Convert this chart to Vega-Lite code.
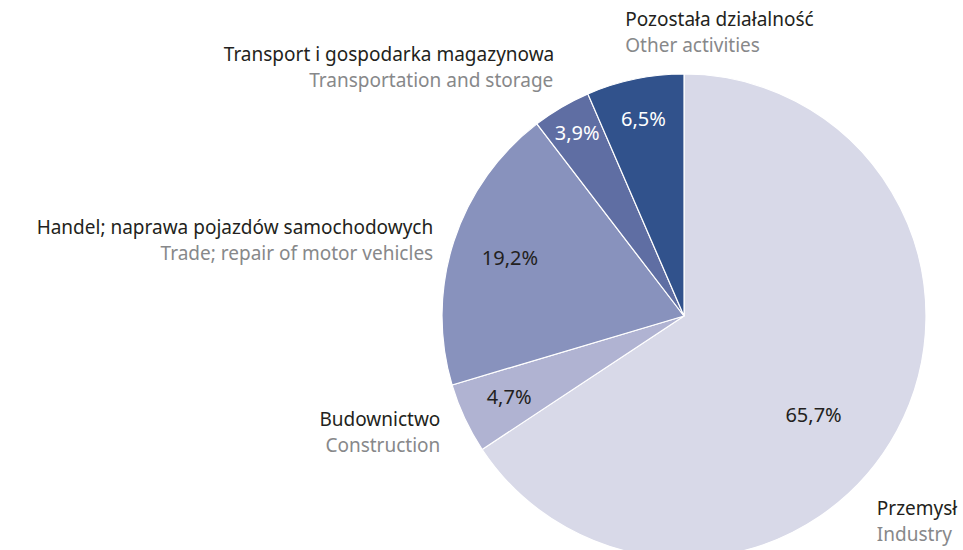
{
  "$schema": "https://vega.github.io/schema/vega-lite/v6.json",
  "width": 558,
  "height": 468,
  "autosize": "none",
  "padding": {"left": 405, "top": 82, "right": 0, "bottom": 0},
  "background": "#ffffff",
  "config": {"view": {"stroke": null}, "text": {"font": "Noto Sans"}},
  "data": {
    "values": [
      {"category": "Przemysł", "english": "Industry", "share": 65.7, "label": "65,7%", "ord": 1},
      {"category": "Budownictwo", "english": "Construction", "share": 4.7, "label": "4,7%", "ord": 2},
      {"category": "Handel; naprawa pojazdów samochodowych", "english": "Trade; repair of motor vehicles", "share": 19.2, "label": "19,2%", "ord": 3},
      {"category": "Transport i gospodarka magazynowa", "english": "Transportation and storage", "share": 3.9, "label": "3,9%", "ord": 4},
      {"category": "Pozostała działalność", "english": "Other activities", "share": 6.5, "label": "6,5%", "ord": 5}
    ]
  },
  "encoding": {
    "theta": {"field": "share", "type": "quantitative", "stack": true},
    "order": {"field": "ord", "type": "quantitative"}
  },
  "layer": [
    {
      "mark": {"type": "arc", "outerRadius": 242, "stroke": "#ffffff", "strokeWidth": 1.2},
      "encoding": {
        "color": {
          "field": "ord",
          "type": "nominal",
          "scale": {"domain": [1, 2, 3, 4, 5], "range": ["#d8d9e8", "#b0b3d2", "#8892bd", "#5f6ea3", "#31528c"]},
          "legend": null
        }
      }
    },
    {
      "mark": {
        "type": "text",
        "fontSize": 20,
        "align": "center",
        "baseline": "middle",
        "radius": {"expr": "[0, 163, 193, 183, 211, 200][datum.ord]"},
        "dx": {"expr": "datum.ord === 1 ? -14 : 0"},
        "dy": {"expr": "datum.ord === 1 ? 23 : 0"}
      },
      "encoding": {
        "text": {"field": "label"},
        "color": {
          "field": "ord",
          "type": "nominal",
          "scale": {"domain": [1, 2, 3, 4, 5], "range": ["#231f20", "#231f20", "#231f20", "#ffffff", "#ffffff"]},
          "legend": null
        }
      }
    },
    {
      "mark": {
        "type": "text",
        "fontSize": 19,
        "baseline": "alphabetic",
        "fill": "#231f20",
        "radius": 270,
        "align": {"expr": "datum.ord === 1 || datum.ord === 5 ? 'left' : 'right'"},
        "dx": {"expr": "[0, -45, 1, 6, 7, -4][datum.ord]"},
        "dy": {"expr": "[0, 71, -4, 1, -22, -26][datum.ord]"}
      },
      "encoding": {"text": {"field": "category"}}
    },
    {
      "mark": {
        "type": "text",
        "fontSize": 19,
        "baseline": "alphabetic",
        "fill": "#87888a",
        "radius": 270,
        "align": {"expr": "datum.ord === 1 || datum.ord === 5 ? 'left' : 'right'"},
        "dx": {"expr": "[0, -45, 1, 6, 6, -4][datum.ord]"},
        "dy": {"expr": "[0, 97, 22, 27, 4, 0][datum.ord]"}
      },
      "encoding": {"text": {"field": "english"}}
    }
  ],
  "resolve": {"scale": {"color": "independent"}}
}
